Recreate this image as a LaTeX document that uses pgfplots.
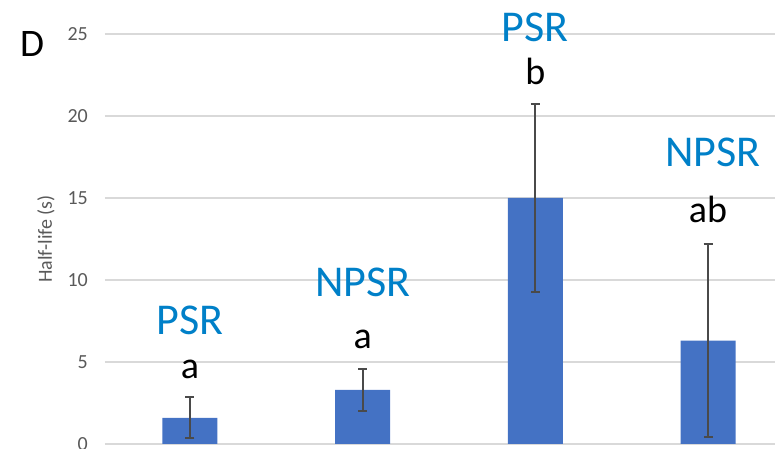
\documentclass[border=0pt]{standalone}
\usepackage{fontspec}
\setmainfont{Carlito}
\usepackage{pgfplots}
\pgfplotsset{compat=1.18}
\definecolor{barblue}{HTML}{4472C4}
\definecolor{lblblue}{RGB}{0,128,200}
\definecolor{gridgray}{HTML}{D9D9D9}
\definecolor{txtgray}{HTML}{595959}
\definecolor{errgray}{HTML}{4A4A4A}
\begin{document}
\begin{tikzpicture}
\begin{axis}[
  name=ax,
  scale only axis,
  width=670pt, height=410pt,
  xmin=-0.492, xmax=3.388,
  ymin=0, ymax=25,
  ytick={0,5,10,15,20,25},
  xtick=\empty,
  axis line style={draw=none},
  major tick length=0pt,
  ymajorgrids,
  grid style={gridgray, line width=1.4pt},
  /pgf/number format/assume math mode=true,
  yticklabel style={font=\fontsize{20}{24}\selectfont, text=txtgray, inner sep=0pt, xshift=-17pt},
  ylabel={Half-life (s)},
  ylabel style={font=\fontsize{20}{24}\selectfont, text=txtgray, at={(axis description cs:-0.088,0.5)}, anchor=center},
  clip=false,
]
\addplot[ybar, bar width=55pt, fill=barblue, draw=none,
  error bars/.cd, y dir=both, y explicit,
  error bar style={draw=errgray, line width=2.2pt},
  error mark options={rotate=90, mark size=4.5pt, line width=2pt, draw=errgray}]
  coordinates {
  (0,1.6) +- (0,1.25)
  (1,3.3) +- (0,1.3)
  (2,15.0) +- (0,5.75)
  (3,6.3) +- (0,5.9)
  };
\node[anchor=base, text=lblblue, font=\fontsize{44}{50}\selectfont, inner sep=0pt] at (axis cs:0,6.65) {PSR};
\node[anchor=base, font=\fontsize{38}{44}\selectfont, inner sep=0pt] at (axis cs:0,4.02) {a};
\node[anchor=base, text=lblblue, font=\fontsize{44}{50}\selectfont, inner sep=0pt] at (axis cs:1,9.0) {NPSR};
\node[anchor=base, font=\fontsize{38}{44}\selectfont, inner sep=0pt] at (axis cs:1,5.85) {a};
\node[anchor=base, text=lblblue, font=\fontsize{44}{50}\selectfont, inner sep=0pt] at (axis cs:2,24.57) {PSR};
\node[anchor=base, font=\fontsize{38}{44}\selectfont, inner sep=0pt] at (axis cs:2,21.9) {b};
\node[anchor=base, text=lblblue, font=\fontsize{44}{50}\selectfont, inner sep=0pt] at (axis cs:3.03,16.9) {NPSR};
\node[anchor=base, font=\fontsize{38}{44}\selectfont, inner sep=0pt] at (axis cs:3,13.5) {ab};
\node[anchor=base west, font=\fontsize{39}{45}\selectfont, inner sep=0pt] at (axis description cs:-0.127,0.944) {D};
\end{axis}
\pgfresetboundingbox
\useasboundingbox ([shift={(-105pt,-5pt)}]ax.south west) rectangle ([shift={(0pt,34pt)}]ax.north east);
\end{tikzpicture}
\end{document}
